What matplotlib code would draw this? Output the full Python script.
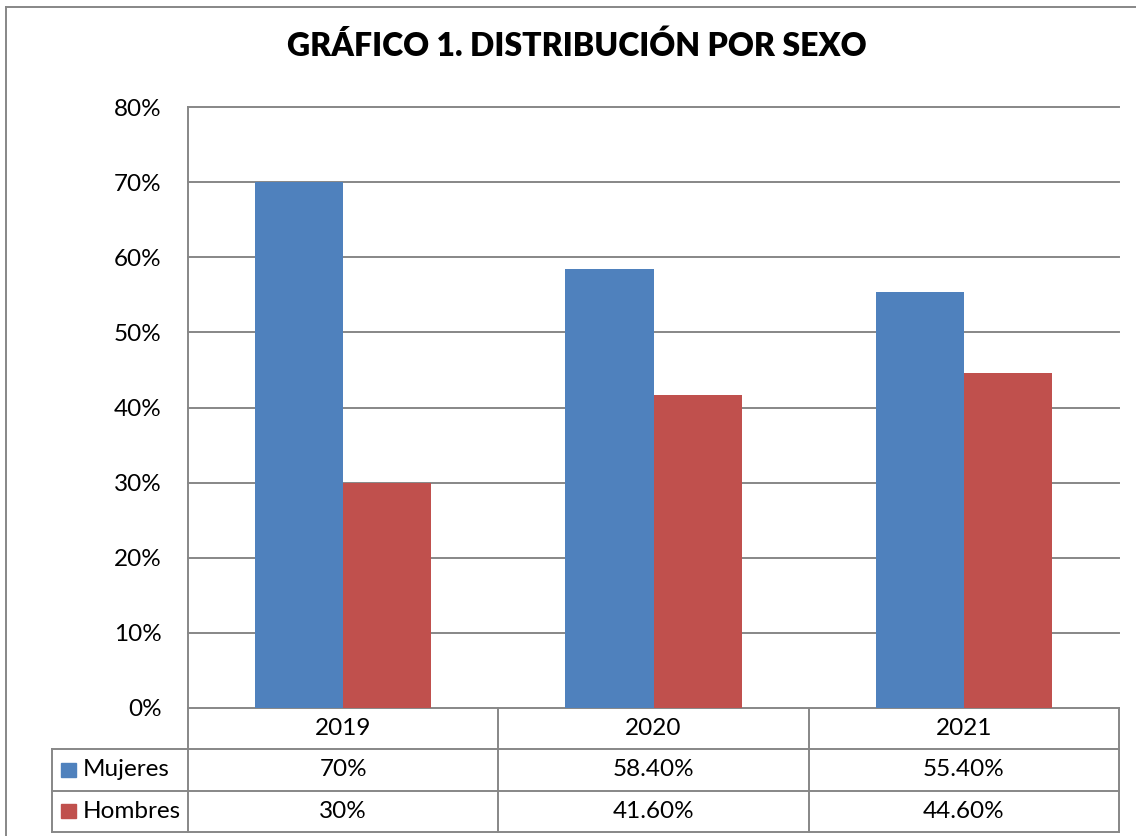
import matplotlib.pyplot as plt
from matplotlib.patches import Rectangle
from matplotlib.lines import Line2D

years = ["2019", "2020", "2021"]
mujeres = [0.70, 0.584, 0.554]
hombres = [0.30, 0.416, 0.446]
mujeres_txt = ["70%", "58.40%", "55.40%"]
hombres_txt = ["30%", "41.60%", "44.60%"]
yticks = [0, 0.1, 0.2, 0.3, 0.4, 0.5, 0.6, 0.7, 0.8]
ytick_labels = ["0%", "10%", "20%", "30%", "40%", "50%", "60%", "70%", "80%"]

azul = "#4F81BD"
rojo = "#C0504D"
gris = "#878787"

plt.rcParams["font.family"] = ["Lato", "DejaVu Sans"]
fs = 17.5

W, H = 1136, 836
fig = plt.figure(figsize=(W / 100, H / 100), dpi=100)

# posiciones en pixeles (sacadas de la imagen)
x_left, x_right = 188, 1119
y_top, y_zero = 107, 708
x_leg = 52
y_bot = 832

ax = fig.add_axes([x_left / W, 1 - y_zero / H, (x_right - x_left) / W, (y_zero - y_top) / H])
n = len(years)
xs = list(range(n))
w = 0.284
ax.bar([x - w / 2 for x in xs], mujeres, width=w, color=azul, label="Mujeres", zorder=2)
ax.bar([x + w / 2 for x in xs], hombres, width=w, color=rojo, label="Hombres", zorder=2)
ax.set_xlim(-0.5, n - 0.5)
ax.set_ylim(0, 0.8)
ax.set_yticks(yticks)
ax.set_yticklabels(ytick_labels, fontsize=fs)
ax.set_xticks([])
ax.tick_params(axis="y", length=0, pad=19)
for y in yticks:
    ax.axhline(y, color=gris, lw=1.4, zorder=1, clip_on=False)
for s in ["top", "right", "bottom"]:
    ax.spines[s].set_visible(False)
ax.spines["left"].set_color(gris)
ax.spines["left"].set_linewidth(1.4)

# tabla de datos debajo
col_px = (x_right - x_left) / n
lab_w = (x_left - x_leg) / col_px
tx = fig.add_axes([x_leg / W, 1 - y_bot / H, (x_right - x_leg) / W, (y_bot - y_zero) / H])
tx.set_xlim(-0.5 - lab_w, n - 0.5)
tx.set_ylim(3, 0)
tx.axis("off")

def linea(x0, x1, y0, y1):
    tx.add_line(Line2D([x0, x1], [y0, y1], color=gris, lw=1.4, clip_on=False))

for r in [1, 2, 3]:
    linea(-0.5 - lab_w, n - 0.5, r, r)
for c in range(n + 1):
    linea(c - 0.5, c - 0.5, 0, 3)
linea(-0.5 - lab_w, -0.5 - lab_w, 1, 3)

for i in range(n):
    tx.text(i, 0.5, years[i], ha="center", va="center", fontsize=fs)
    tx.text(i, 1.5, mujeres_txt[i], ha="center", va="center", fontsize=fs)
    tx.text(i, 2.5, hombres_txt[i], ha="center", va="center", fontsize=fs)

sq_w = 15 / col_px
for r, (nombre, color) in enumerate([("Mujeres", azul), ("Hombres", rojo)]):
    x0 = -0.5 - lab_w + 9 / col_px
    tx.add_patch(Rectangle((x0, r + 1.5 - 0.17), sq_w, 0.34, color=color, clip_on=False))
    tx.text(x0 + 22 / col_px, r + 1.5, nombre, ha="left", va="center", fontsize=fs)

# titulo
fig.text(0.5075, 1 - 46 / H, "GRÁFICO 1. DISTRIBUCIÓN POR SEXO", ha="center", va="center",
         fontsize=23, fontweight="heavy")

# borde exterior del grafico
fig.add_artist(Line2D([6 / W, 6 / W], [0, 1 - 7 / H], color=gris, lw=1.4))
fig.add_artist(Line2D([6 / W, 1], [1 - 7 / H, 1 - 7 / H], color=gris, lw=1.4))

fig.savefig("out.png", dpi=100)
